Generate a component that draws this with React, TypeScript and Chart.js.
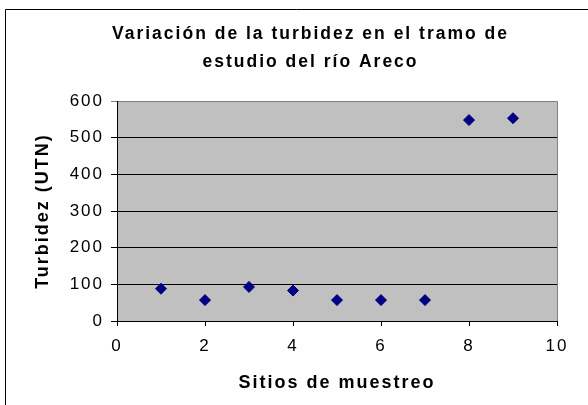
import React, { useEffect, useRef } from "react";
import { Chart, registerables } from "chart.js";

Chart.register(...registerables);

const TITLE_LINES = ["Variación de la turbidez en el tramo de", "estudio del río Areco"];
const X_TITLE = "Sitios de muestreo";
const Y_TITLE = "Turbidez (UTN)";
const SITES = [1, 2, 3, 4, 5, 6, 7, 8, 9];
const TURBIDITY = [88, 57, 93, 83, 57, 57, 57, 548, 553];
const X_MIN = 0;
const X_MAX = 10;
const X_STEP = 2;
const Y_MIN = 0;
const Y_MAX = 600;
const Y_STEP = 100;

const FONT = "'Liberation Sans', Arial, sans-serif";

const framePlugin = {
  id: "frame",
  afterLayout(chart: any) {
    if (chart.titleBlock) {
      chart.titleBlock.left = 64;
    }
  },
  beforeDraw(chart: any) {
    const ctx = chart.ctx;
    const a = chart.chartArea;
    ctx.save();
    ctx.fillStyle = "#ffffff";
    ctx.fillRect(0, 0, chart.width, chart.height);
    // outer chart frame (left and top visible)
    ctx.strokeStyle = "#000000";
    ctx.lineWidth = 1;
    ctx.beginPath();
    ctx.moveTo(5.5, chart.height);
    ctx.lineTo(5.5, 9.5);
    ctx.lineTo(chart.width, 9.5);
    ctx.stroke();
    // plot area
    ctx.fillStyle = "#c0c0c0";
    ctx.fillRect(a.left, a.top, a.right - a.left, a.bottom - a.top);
    ctx.strokeStyle = "#808080";
    ctx.beginPath();
    ctx.moveTo(a.left, Math.round(a.top) + 0.5);
    ctx.lineTo(Math.round(a.right) + 0.5, Math.round(a.top) + 0.5);
    ctx.lineTo(Math.round(a.right) + 0.5, a.bottom);
    ctx.stroke();
    ctx.restore();
    (ctx as any).letterSpacing = "2px";
  },
};

export default function App() {
  const ref = useRef<HTMLCanvasElement | null>(null);

  useEffect(() => {
    if (!ref.current) return;
    const chart = new Chart(ref.current, {
      type: "scatter",
      data: {
        datasets: [
          {
            label: "Turbidez",
            data: SITES.map((x, i) => ({ x, y: TURBIDITY[i] })),
            backgroundColor: "#000080",
            borderColor: "#000080",
            borderWidth: 1,
            pointStyle: "rectRot",
            pointRadius: 5.5,
            pointHoverRadius: 5.5,
            showLine: false,
          },
        ],
      },
      options: {
        responsive: false,
        animation: false,
        devicePixelRatio: 1,
        layout: { padding: { left: 0, right: 31, top: 0, bottom: 0 } },
        plugins: {
          legend: { display: false },
          tooltip: { enabled: false },
          title: {
            display: true,
            text: TITLE_LINES,
            color: "#000000",
            font: { family: FONT, size: 17.5, weight: "bold", lineHeight: "28px" },
            padding: { top: 20, bottom: 25 },
          },
        },
        scales: {
          x: {
            type: "linear",
            min: X_MIN,
            max: X_MAX,
            afterFit(scale: any) {
              scale.height = 84;
            },
            ticks: {
              stepSize: X_STEP,
              color: "#000000",
              font: { family: FONT, size: 17 },
              padding: 10,
              maxRotation: 0,
            },
            grid: {
              drawOnChartArea: false,
              drawTicks: true,
              tickLength: 5,
              color: "#000000",
            },
            border: { display: true, color: "#000000", width: 1 },
            title: {
              display: true,
              text: X_TITLE,
              color: "#000000",
              font: { family: FONT, size: 18, weight: "bold" },
              padding: { top: 0, bottom: 11 },
            },
          },
          y: {
            type: "linear",
            min: Y_MIN,
            max: Y_MAX,
            afterFit(scale: any) {
              scale.width = 117;
            },
            ticks: {
              stepSize: Y_STEP,
              color: "#000000",
              font: { family: FONT, size: 17 },
              padding: 7,
            },
            grid: {
              drawTicks: true,
              tickLength: 6,
              color: (c: any) => (c.tick && c.tick.value === Y_MAX ? "#808080" : "#000000"),
            },
            border: { display: true, color: "#000000", width: 1 },
            title: {
              display: true,
              text: Y_TITLE,
              color: "#000000",
              font: { family: FONT, size: 18, weight: "bold" },
              padding: { top: 32, bottom: 0 },
            },
          },
        },
      },
      plugins: [framePlugin],
    } as any);
    return () => chart.destroy();
  }, []);

  return (
    <div style={{ position: "absolute", left: 0, top: 0, width: 588, height: 405 }}>
      <canvas ref={ref} width={588} height={405} style={{ display: "block", width: 588, height: 405 }} />
    </div>
  );
}
